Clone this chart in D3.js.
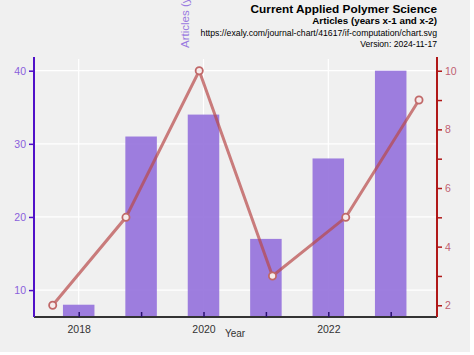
<!DOCTYPE html>
<html><head><meta charset="utf-8">
<script src="https://cdn.jsdelivr.net/npm/d3@7"></script>
<style>body{margin:0;background:#fff}svg{display:block}text{font-family:"Liberation Sans",Arial,sans-serif}</style>
</head><body>
<svg id="c" width="474" height="355"></svg>
<script>
const years = [2018, 2019, 2020, 2021, 2022, 2023];
const articles = [8, 31, 34, 17, 28, 40];
const ifValues = [2, 5, 10, 3, 5, 9];
const leftTicks = [10, 20, 30, 40];
const rightTicks = [2, 3, 4, 5, 6, 7, 8, 9, 10];
const xLabels = [2018, 2020, 2022];

const svg = d3.select("#c");
svg.append("rect").attr("x",0).attr("y",0).attr("width",470).attr("height",352).attr("fill","#f0f0f0");

const L = 34, R = 437, T = 59, B = 317;
const yL = d3.scaleLinear().domain([6.32, 41.6]).range([B, T]);
const yR = d3.scaleLinear().domain([1.6, 10.4]).range([B, T]);
const xBar = d3.scaleLinear().domain([2018, 2023]).range([78.7, 390.7]);
const xLine = d3.scaleLinear().domain([2018, 2023]).range([52.7, 419]);

// grid
svg.append("g").selectAll("line").data(leftTicks).join("line")
  .attr("x1", L).attr("x2", R).attr("y1", d=>yL(d)).attr("y2", d=>yL(d))
  .attr("stroke","#fff").attr("stroke-width",1.2);
svg.append("g").selectAll("line").data(xLabels).join("line")
  .attr("x1", d=>xBar(d)).attr("x2", d=>xBar(d)).attr("y1", T).attr("y2", B)
  .attr("stroke","#fff").attr("stroke-width",1.2);

// bars
const bw = 31.5;
svg.append("g").selectAll("rect").data(years).join("rect")
  .attr("x", (d)=>xBar(d)-bw/2).attr("width", bw)
  .attr("y", (d,i)=>yL(articles[i])).attr("height", (d,i)=>B-yL(articles[i]))
  .attr("fill","#9370db").attr("opacity",0.9);

// line
const line = d3.line().x((d,i)=>xLine(years[i])).y(d=>yR(d));
svg.append("path").datum(ifValues).attr("d", line)
  .attr("fill","none").attr("stroke","#b84848").attr("stroke-opacity",0.7).attr("stroke-width",3);
svg.append("g").selectAll("circle").data(ifValues).join("circle")
  .attr("cx",(d,i)=>xLine(years[i])).attr("cy",d=>yR(d)).attr("r",3.6)
  .attr("fill","#f6ecec").attr("stroke","#c06868").attr("stroke-width",1.8);

// bottom axis
const xAxis = d3.axisBottom(xBar).tickValues(years).tickSize(-5).tickPadding(9)
  .tickFormat(d => xLabels.includes(d) ? d : "");
const gx = svg.append("g").attr("transform",`translate(0,${B})`).call(xAxis);
gx.select(".domain").attr("d", `M${L},0H${R}`).attr("stroke","#333").attr("stroke-width",2);
gx.selectAll(".tick line").attr("stroke","#2a1070").attr("stroke-width",1.5);
gx.selectAll("text").attr("fill","#333").attr("font-size",10.5).style("font-family","'Liberation Sans',Arial,sans-serif");
svg.append("text").attr("x",235).attr("y",337).attr("text-anchor","middle").attr("font-size",10).attr("fill","#333").text("Year");

// left axis
const gl = svg.append("g").attr("transform",`translate(${L},0)`).call(d3.axisLeft(yL).tickValues(leftTicks).tickSize(5).tickPadding(3));
gl.select(".domain").attr("d", `M0,${T-2}V${B}`).attr("stroke","#5010c8").attr("stroke-width",2);
gl.selectAll(".tick line").attr("stroke","#5010c8").attr("stroke-width",1.5);
gl.selectAll("text").attr("fill","#8a60dc").attr("font-size",10.5).style("font-family","'Liberation Sans',Arial,sans-serif");

// right axis
const gr = svg.append("g").attr("transform",`translate(${R},0)`).call(d3.axisRight(yR).tickValues(rightTicks).tickSize(5).tickPadding(3)
  .tickFormat(d => d % 2 === 0 ? d : ""));
gr.select(".domain").attr("d", `M0,${T-2}V${B}`).attr("stroke","#b01818").attr("stroke-width",2);
gr.selectAll(".tick line").attr("stroke","#b01818").attr("stroke-width",1.5);
gr.selectAll("text").attr("fill","#c06070").attr("font-size",10.5).style("font-family","'Liberation Sans',Arial,sans-serif");

// left axis title (partially off-canvas)
svg.append("text").attr("transform","translate(189,48) rotate(-90)").attr("text-anchor","start")
  .attr("font-size",11.5).attr("fill","#9a7ae0").text("Articles (years x-1 and x-2)");

// titles
svg.append("text").attr("x",437).attr("y",13).attr("text-anchor","end").attr("font-size",11.8).attr("font-weight","bold").attr("fill","#000").text("Current Applied Polymer Science");
svg.append("text").attr("x",437).attr("y",24).attr("text-anchor","end").attr("font-size",9.8).attr("font-weight","bold").attr("fill","#000").text("Articles (years x-1 and x-2)");
svg.append("text").attr("x",437).attr("y",36).attr("text-anchor","end").attr("font-size",8.7).attr("fill","#000").text("https://exaly.com/journal-chart/41617/if-computation/chart.svg");
svg.append("text").attr("x",437).attr("y",47).attr("text-anchor","end").attr("font-size",8.6).attr("fill","#000").text("Version: 2024-11-17");
</script>
</body></html>
